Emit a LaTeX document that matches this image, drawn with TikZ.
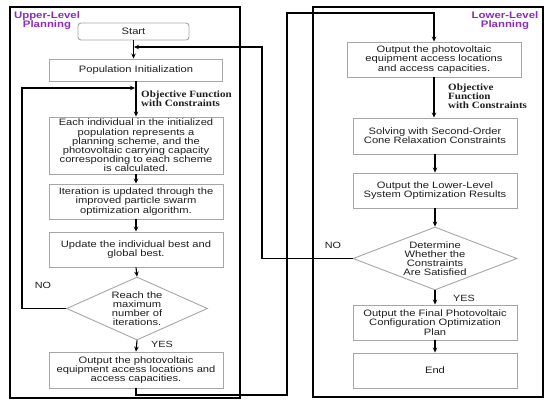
\documentclass[tikz,border=0pt]{standalone}
\usepackage{fontspec}
\setmainfont{Liberation Sans}
\newfontfamily\bx{Liberation Sans}[FakeStretch=1.2]
\newfontfamily\sr{Liberation Serif}[FakeStretch=1.15]
\usetikzlibrary{arrows.meta,shapes.geometric}
\definecolor{boxgray}{HTML}{A6A6A6}
\definecolor{txt}{HTML}{1E1E1E}
\definecolor{purp}{HTML}{8A2BC2}
\begin{document}
\begin{tikzpicture}[x=1pt,y=-1pt,
  box/.style={draw=boxgray,line width=0.9pt,fill=white,inner sep=0pt,align=center,text=txt,font=\bx\fontsize{9.3}{9.2}\selectfont},
  dia/.style={draw=boxgray,line width=0.9pt,diamond,inner sep=0pt},
  dtext/.style={align=center,text=txt,font=\bx\fontsize{9.3}{9.2}\selectfont,inner sep=0pt},
  arr/.style={-{Stealth[length=5pt,width=4.5pt]},line width=1.1pt,black},
  frame/.style={draw=black,line width=1.6pt},
  lbl/.style={text=txt,font=\sr\bfseries\fontsize{9.6}{9.2}\selectfont,align=left,inner sep=0pt,anchor=west},
  yn/.style={text=txt,font=\bx\fontsize{9}{9}\selectfont,inner sep=0pt},
  ttl/.style={text=purp,font=\bx\bfseries\fontsize{9.5}{9.5}\selectfont,align=center,inner sep=0pt}
]
\useasboundingbox (0,0) rectangle (550,405);
\fill[white] (0,0) rectangle (550,405);
% frames
\draw[frame] (10,7) rectangle (240,398);
\draw[frame] (313,7) rectangle (543,397);
\node[ttl] (t1) at (47,20.5) {Upper-Level\\Planning};
\node[ttl] (t2) at (505,20.5) {Lower-Level\\Planning};
% left column
\node[box,rounded corners=3pt,minimum width=111pt,minimum height=17pt] (start) at (133.5,31.5) {Start};
\node[box,minimum width=173pt,minimum height=22pt] (pop) at (136,70) {Population Initialization};
\node[box,minimum width=174pt,minimum height=57pt] (each) at (136,145.5) {Each individual in the initialized\\population represents a\\planning scheme, and the\\photovoltaic carrying capacity\\corresponding to each scheme\\is calculated.};
\node[box,minimum width=174pt,minimum height=35pt] (iter) at (136,201.5) {Iteration is updated through the\\improved particle swarm\\optimization algorithm.};
\node[box,minimum width=174pt,minimum height=35pt] (upd) at (136,249.5) {Update the individual best and\\global best.};
\node[dia,minimum width=141pt,minimum height=63pt] (d1) at (137,308.5) {};
\node[dtext] (d1t) at (d1.center) {Reach the\\maximum\\number of\\iterations.};
\node[box,minimum width=174pt,minimum height=36pt] (out1) at (136,370) {Output the photovoltaic\\equipment access locations and\\access capacities.};
% right column
\node[box,minimum width=174pt,minimum height=35pt] (rout) at (434,59.5) {Output the photovoltaic\\equipment access locations\\and access capacities.};
\node[box,minimum width=164pt,minimum height=36pt] (solve) at (435,136) {Solving with Second-Order\\Cone Relaxation Constraints};
\node[box,minimum width=164pt,minimum height=35pt] (low) at (435,190.5) {Output the Lower-Level\\System Optimization Results};
\node[dia,minimum width=164pt,minimum height=63pt] (d2) at (435,258.5) {};
\node[dtext] (d2t) at (d2.center) {Determine\\Whether the\\Constraints\\Are Satisfied};
\node[box,minimum width=164pt,minimum height=35pt] (fin) at (435,322.5) {Output the Final Photovoltaic\\Configuration Optimization\\Plan};
\node[box,minimum width=164pt,minimum height=35pt] (endn) at (435,370.5) {End};
% junction coordinates
\coordinate (j1) at (134,47);
\coordinate (j2) at (135,88);
% left arrows
\draw[arr] (start.south) -- (start.south |- pop.north);
\draw[arr] (pop.south) -- (each.north);
\node[lbl] (obj1) at (141,98.5) {Objective Function\\with Constraints};
\draw[arr] (each.south) -- (iter.north);
\draw[arr] (iter.south) -- (upd.north);
\draw[arr] (upd.south) -- (d1.north);
\draw[arr] (d1.south) -- (out1.north);
\node[yn] (yes1) at (162,344) {YES};
\node[yn] (no1) at (43,285) {NO};
\draw[arr] (d1.west) -- (22,308.5) |- (j2);
% cross connections
\draw[arr] (out1.south) -- (136,395) -| (287,13) -| (rout.north);
\draw[arr] (d2.west) -- (262,258.5) |- (j1);
% right arrows
\draw[arr] (rout.south) -- (rout.south |- solve.north);
\node[lbl] (obj2) at (448,96) {Objective\\Function\\with Constraints};
\draw[arr] (solve.south) -- (low.north);
\draw[arr] (low.south) -- (d2.north);
\draw[arr] (d2.south) -- (fin.north);
\node[yn] (yes2) at (464,298) {YES};
\node[yn] (no2) at (333,245.5) {NO};
\draw[arr] (fin.south) -- (endn.north);
\end{tikzpicture}
\end{document}
